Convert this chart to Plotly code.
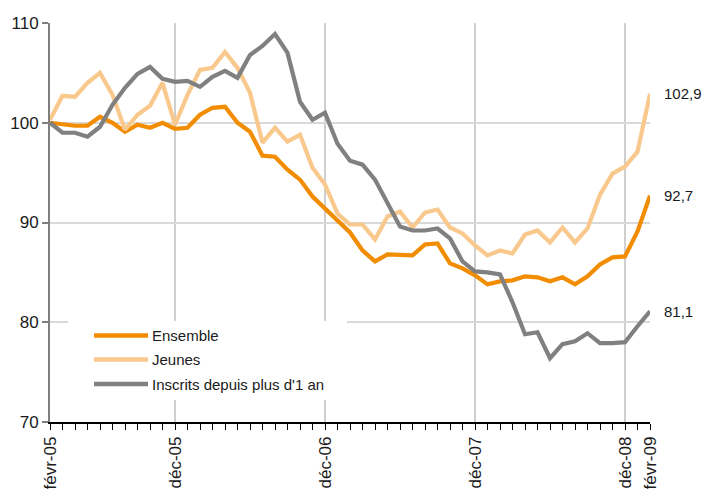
import plotly.graph_objects as go

# Monthly index: 0 = févr-05 ... 48 = févr-09
tick_pos = [0, 10, 22, 34, 46, 48]
tick_labels = ["févr-05", "déc-05", "déc-06", "déc-07", "déc-08", "févr-09"]
dec_pos = [10, 22, 34, 46]

series_names = ["Ensemble", "Jeunes", "Inscrits depuis plus d'1 an"]

ensemble = [100.0, 99.8, 99.7, 99.7, 100.6, 100.0, 99.1, 99.8, 99.5, 100.0,
            99.4, 99.5, 100.8, 101.5, 101.6, 100.0, 99.1, 96.7, 96.6, 95.3,
            94.3, 92.6, 91.4, 90.1, 89.0, 87.2, 86.1, 86.8, 86.8, 86.7,
            87.8, 87.9, 85.9, 85.4, 84.7, 83.8, 84.1, 84.2, 84.6, 84.5,
            84.1, 84.5, 83.8, 84.6, 85.8, 86.5, 86.6, 89.1, 92.7]

jeunes = [100.3, 102.7, 102.6, 104.0, 105.0, 102.8, 99.3, 100.8, 101.7, 104.0,
          99.8, 102.8, 105.3, 105.5, 107.1, 105.5, 103.0, 98.0, 99.5, 98.1,
          98.8, 95.5, 93.8, 90.9, 89.8, 89.8, 88.3, 90.6, 91.1, 89.5,
          91.0, 91.3, 89.5, 88.9, 87.7, 86.7, 87.2, 86.9, 88.8, 89.2,
          88.0, 89.5, 88.0, 89.4, 92.8, 94.9, 95.6, 97.1, 102.9]

inscrits = [100.0, 99.0, 99.0, 98.6, 99.6, 101.8, 103.5, 104.9, 105.6, 104.4,
            104.1, 104.2, 103.6, 104.6, 105.2, 104.5, 106.8, 107.7, 108.9, 107.0,
            102.1, 100.3, 101.0, 97.9, 96.2, 95.8, 94.3, 92.0, 89.6, 89.2,
            89.2, 89.4, 88.4, 86.1, 85.1, 85.0, 84.8, 82.0, 78.8, 79.0,
            76.4, 77.8, 78.1, 78.9, 77.9, 77.9, 78.0, 79.6, 81.1]

colors = ["#f28c00", "#f9c88c", "#808080"]
all_series = [ensemble, jeunes, inscrits]
months = list(range(len(ensemble)))

FONT = "Liberation Sans, Arial, sans-serif"
TICKFONT = "Liberation Sans Narrow, Arial Narrow, Liberation Sans, Arial, sans-serif"

fig = go.Figure()

for name, vals, col in zip(series_names, all_series, colors):
    fig.add_trace(go.Scatter(x=months, y=vals, mode="lines", name=name,
                             line=dict(color=col, width=4.2),
                             showlegend=False, hoverinfo="skip"))

shapes = []
# vertical gridlines at December
for p in dec_pos:
    shapes.append(dict(type="line", xref="x", yref="paper", x0=p, x1=p, y0=0, y1=1,
                       line=dict(color="#bfbfbf", width=1.5), layer="below"))

# legend box (white, covering gridlines)
shapes.append(dict(type="rect", xref="paper", yref="paper",
                   x0=(68 - 50) / 600, x1=(347 - 50) / 600,
                   y0=(422 - 400) / 399, y1=(422 - 321) / 399,
                   fillcolor="white", line=dict(width=0), layer="above"))

annotations = []
legend_rows_py = [335.5, 359.5, 384]
for name, col, py in zip(series_names, colors, legend_rows_py):
    yp = (422 - py) / 399
    shapes.append(dict(type="line", xref="paper", yref="paper",
                       x0=(94 - 50) / 600, x1=(148 - 50) / 600, y0=yp, y1=yp,
                       line=dict(color=col, width=4.5), layer="above"))
    annotations.append(dict(xref="paper", yref="paper", x=(150 - 50) / 600, y=yp,
                            text=name, showarrow=False, xanchor="left", yanchor="middle",
                            font=dict(family=FONT, size=15, color="#1a1a1a")))

# end-value labels
for vals in all_series:
    v = vals[-1]
    annotations.append(dict(xref="x", yref="y", x=months[-1], y=v,
                            text=f"{v:.1f}".replace(".", ","), showarrow=False,
                            xanchor="left", yanchor="middle", xshift=12,
                            font=dict(family=FONT, size=15, color="#1a1a1a")))

fig.update_layout(
    width=721, height=489,
    margin=dict(l=50, r=71, t=23, b=67),
    paper_bgcolor="white", plot_bgcolor="white",
    font=dict(family=FONT, size=15, color="#1a1a1a"),
    shapes=shapes, annotations=annotations,
    showlegend=False,
)

fig.update_xaxes(
    range=[0, 48], tickvals=tick_pos, ticktext=tick_labels, tickangle=-90,
    showgrid=False, zeroline=False, automargin=False,
    showline=True, linecolor="#000000", linewidth=1.5,
    ticks="outside", ticklen=6, tickcolor="#000000", tickwidth=1,
    minor=dict(dtick=1, tick0=0, ticks="outside", ticklen=6, tickcolor="#000000", showgrid=False),
    tickfont=dict(family=TICKFONT, size=17, color="#1a1a1a"),
)

fig.update_yaxes(
    range=[70, 110], dtick=10, tick0=70, automargin=False,
    showgrid=True, gridcolor="#d9d9d9", gridwidth=1.5, zeroline=False,
    showline=True, linecolor="#7f7f7f", linewidth=2,
    ticks="outside", ticklen=6, tickcolor="#7f7f7f", tickwidth=1.5,
    tickfont=dict(family=TICKFONT, size=17, color="#1a1a1a"),
)

fig.write_html("out.html", config={"displayModeBar": False},
               post_script="document.body.style.margin='0';")
